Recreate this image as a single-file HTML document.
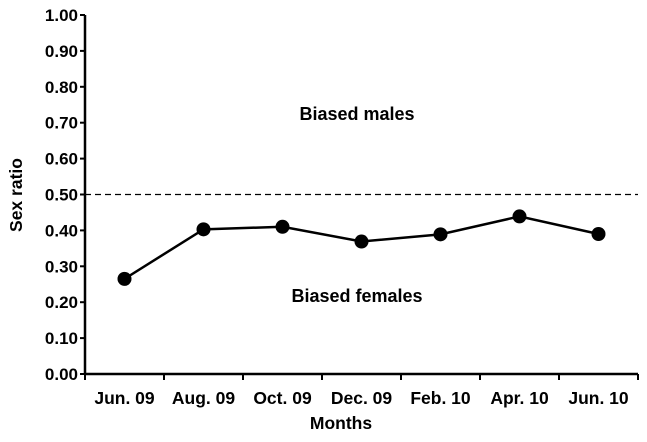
<!DOCTYPE html>
<html><head><meta charset="utf-8"><style>
body{margin:0;background:#fff}
text{font-family:"Liberation Sans",Arial,sans-serif;font-weight:bold;fill:#000}
</style></head><body>
<svg id="c" width="647" height="437"></svg>
<script>
const categories=["Jun. 09","Aug. 09","Oct. 09","Dec. 09","Feb. 10","Apr. 10","Jun. 10"];
const sexRatio=[0.265,0.403,0.41,0.369,0.389,0.439,0.39];
const yTicks=[0,0.1,0.2,0.3,0.4,0.5,0.6,0.7,0.8,0.9,1.0];
const threshold=0.5;
const svg=document.getElementById('c');
const NS='http://www.w3.org/2000/svg';
const x0=85,x1=638,y0=374,y1=15;
const band=(x1-x0)/categories.length;
const xs=i=>x0+band*(i+0.5);
const ys=v=>y0-(y0-y1)*v;
function el(t,a,p){const e=document.createElementNS(NS,t);for(const k in a)e.setAttribute(k,a[k]);(p||svg).appendChild(e);return e;}
let g;
yTicks.forEach(v=>{
 g=el('line',{x1:x0-5,x2:x0,y1:ys(v),y2:ys(v),stroke:'#000','stroke-width':2});
 
 
 const t=el('text',{x:x0-7,y:ys(v)+6,'text-anchor':'end','font-size':17});
 t.textContent=v.toFixed(2);
 
 
});
for(let i=0;i<=categories.length;i++){
 g=el('line',{x1:x0+band*i,x2:x0+band*i,y1:y0,y2:y0+6,stroke:'#000','stroke-width':2});
 
 
}
categories.forEach((c,i)=>{
 const t=el('text',{x:xs(i),y:404,'text-anchor':'middle','font-size':17.5});
 t.textContent=c;
 
 
});
g=el('line',{x1:x0,x2:x0,y1:y1,y2:y0+1,stroke:'#000','stroke-width':2.5});


g=el('line',{x1:x0-1,x2:x1,y1:y0,y2:y0,stroke:'#000','stroke-width':2.5});


g=el('line',{x1:x0,x2:x1,y1:ys(threshold),y2:ys(threshold),stroke:'#000','stroke-width':1.3,'stroke-dasharray':'6,4'});


g=el('polyline',{points:sexRatio.map((v,i)=>xs(i)+','+ys(v)).join(' '),fill:'none',stroke:'#000','stroke-width':2.5});


sexRatio.forEach((v,i)=>{
 const p=el('circle',{cx:xs(i),cy:ys(v),r:7,fill:'#000'});
 
 
});
g=el('text',{x:357,y:120,'text-anchor':'middle','font-size':18});g.textContent='Biased males';


g=el('text',{x:357,y:302,'text-anchor':'middle','font-size':18});g.textContent='Biased females';


g=el('text',{x:341,y:429,'text-anchor':'middle','font-size':17.5});g.textContent='Months';


g=el('text',{x:22,y:195,'text-anchor':'middle','font-size':17.5,transform:'rotate(-90 22 195)'});g.textContent='Sex ratio';


</script>
</body></html>
